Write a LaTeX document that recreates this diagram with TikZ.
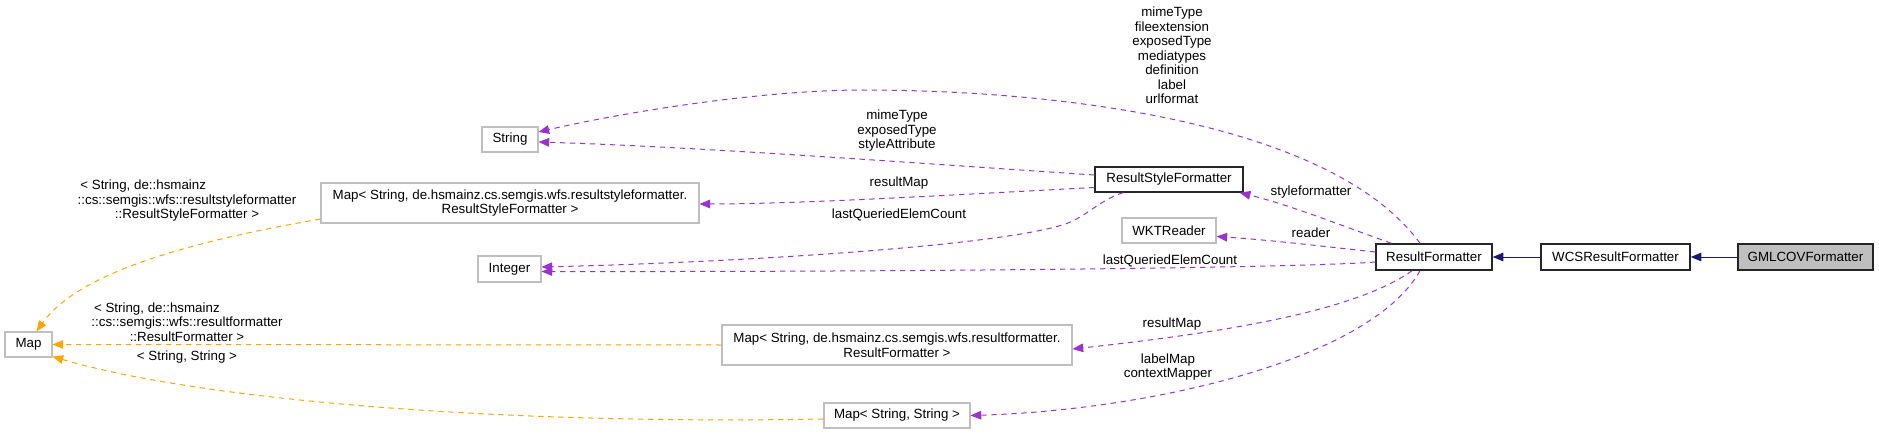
\documentclass[tikz,border=0pt]{standalone}
\usepackage{fontspec}
\setmainfont{Liberation Sans}
\usetikzlibrary{arrows.meta,calc}
\definecolor{pur}{HTML}{9A32CD}
\definecolor{org}{HTML}{FFA500}
\definecolor{nav}{HTML}{191970}
\definecolor{gbord}{HTML}{BFBFBF}
\newlength\dxlw
\newcommand\dxfirst[2]{\settowidth{\dxlw}{#2}\makebox[\dxlw][l]{\hspace{2pt}#1}\\#2}
\begin{document}
\begin{tikzpicture}[x=0.75pt,y=-0.75pt,
  every node/.style={font=\fontsize{10}{10.9}\selectfont, inner sep=0pt, align=center},
  ext/.style={draw=gbord, line width=0.8pt, fill=white, minimum height=18.75pt},
  ext2/.style={ext, minimum height=30pt},
  docb/.style={draw=black!85, line width=1.1pt, fill=white, minimum height=19.5pt},
  pe/.style={draw=pur, line width=0.75pt, dash pattern=on 4pt off 3.5pt, -{Triangle[length=8pt,width=6.5pt,fill=pur]}},
  oe/.style={draw=org, line width=0.75pt, dash pattern=on 4pt off 3.5pt, -{Triangle[length=8pt,width=6.5pt,fill=org]}},
  ne/.style={draw=nav, line width=0.75pt, -{Triangle[length=8pt,width=6.5pt,fill=nav]}},
  lbl/.style={}
]
\useasboundingbox (0,0) rectangle (1879,435);

% nodes
\node[ext, minimum width=42pt] (String) at (510,139.5) {String};
\node[ext2, minimum width=283.5pt] (MapRSF) at (510,203) {Map< String, de.hsmainz.cs.semgis.wfs.resultstyleformatter.\\ResultStyleFormatter >};
\node[ext, minimum width=47.25pt, minimum height=19.5pt] (Integer) at (509.5,269) {Integer};
\node[ext, minimum width=35.25pt] (Map) at (28.5,344.5) {Map};
\node[docb, minimum width=111pt, minimum height=18.75pt] (RSF) at (1169,179.5) {ResultStyleFormatter};
\node[ext, minimum width=70.5pt] (WKT) at (1169,230.5) {WKTReader};
\node[docb, minimum width=87pt] (RF) at (1434,257) {ResultFormatter};
\node[docb, minimum width=111.75pt] (WCS) at (1615.5,257) {WCSResultFormatter};
\node[docb, fill=gbord, minimum width=101.25pt] (GML) at (1805.5,257) {GMLCOVFormatter};
\node[ext2, minimum width=262.5pt] (MapRF) at (897,345) {Map< String, de.hsmainz.cs.semgis.wfs.resultformatter.\\ResultFormatter >};
\node[ext, minimum width=109.5pt] (MapSS) at (897,415.5) {Map< String, String >};

% edges
\draw[pe] ($(RF.north)+(-14,0)$) .. controls (1330,120) and (1050,90) .. (863,90)
  .. controls (760,90) and (620,113) .. ($(String.east)+(0,-7.5)$);
\draw[pe] ($(RSF.west)+(0,-4.5)$) .. controls (900,162) and (700,147) .. ($(String.east)+(0,2.5)$);
\draw[pe] ($(RSF.west)+(0,8)$) .. controls (950,195) and (800,204) .. ($(MapRSF.east)+(0,1)$);
\draw[pe] ($(RSF.south)+(-46,0)$) .. controls (1100,200) and (1088,215) .. (1068,223)
  .. controls (1010,245) and (750,262) .. ($(Integer.east)+(0,-2)$);
\draw[pe] ($(RF.north west)+(16,0)$) .. controls (1340,225) and (1290,205) .. ($(RSF.south east)+(-4,0)$);
\draw[pe] ($(RF.west)+(0,-5)$) .. controls (1320,246) and (1270,240) .. ($(WKT.east)+(0,6)$);
\draw[pe] ($(RF.west)+(0,5)$) .. controls (1300,268) and (900,272) .. ($(Integer.east)+(0,2.5)$);
\draw[pe] ($(RF.south)+(-22,0)$) .. controls (1350,315) and (1200,335) .. ($(MapRF.east)+(0,4)$);
\draw[pe] ($(RF.south)+(-14,0)$) .. controls (1370,360) and (1150,410) .. (MapSS.east);
\draw[oe] ($(MapRSF.west)+(0,16)$) .. controls (200,240) and (80,270) .. ($(Map.north)+(8,0)$);
\draw[oe] (MapRF.west) -- (Map.east);
\draw[oe] ($(MapSS.west)+(0,3.5)$) .. controls (500,425) and (200,400) .. ($(Map.south east)+(0,-1)$);
\draw[ne] (WCS.west) -- (RF.east);
\draw[ne] (GML.west) -- (WCS.east);

% labels
\node[lbl] (L1) at (1172,55.5) {mimeType\\fileextension\\exposedType\\mediatypes\\definition\\label\\urlformat};
\node[lbl] (L2) at (897,131) {mimeType\\exposedType\\styleAttribute};
\node[lbl] (L3) at (899,183) {resultMap};
\node[lbl] (L4) at (899,215) {lastQueriedElemCount};
\node[lbl] (L5) at (1311,192) {styleformatter};
\node[lbl] (L6) at (1311,233) {reader};
\node[lbl] (L7) at (1170,261) {lastQueriedElemCount};
\node[lbl] (L8) at (1172,324) {resultMap};
\node[lbl] (L9) at (1168,367) {labelMap\\contextMapper};
\node[lbl] (L10) at (187,201) {\dxfirst{< String, de::hsmainz}{::cs::semgis::wfs::resultstyleformatter}\\::ResultStyleFormatter >};
\node[lbl] (L11) at (187,322) {\dxfirst{< String, de::hsmainz}{::cs::semgis::wfs::resultformatter}\\::ResultFormatter >};
\node[lbl] (L12) at (187,357) {< String, String >};
\end{tikzpicture}
\end{document}
